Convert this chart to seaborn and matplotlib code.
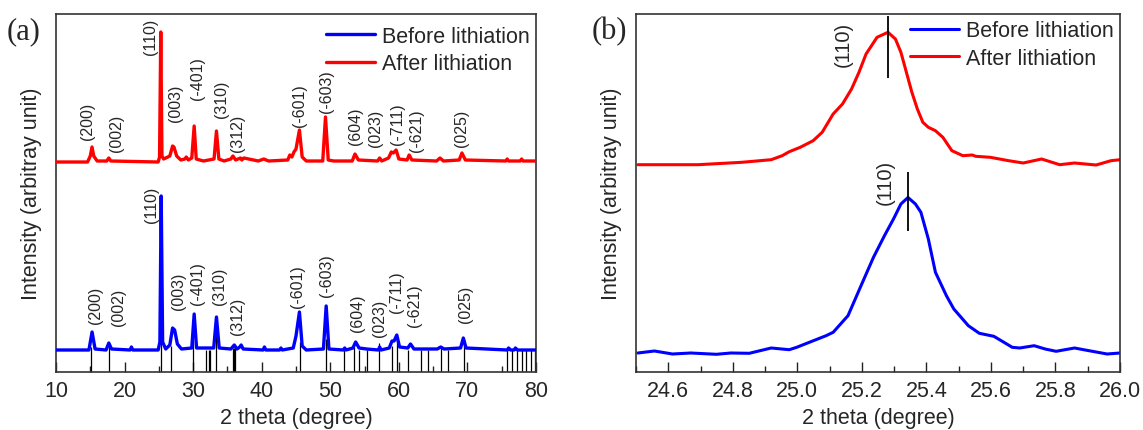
import matplotlib
matplotlib.use("Agg")
import matplotlib.pyplot as plt
from matplotlib.ticker import MultipleLocator
import seaborn as sns
import pandas as pd

# ---- panel (a): full XRD patterns, heights (arb. units) ----
before_x = [10.0, 14.8, 15.26, 15.7, 17.3, 17.7, 18.1, 20.8, 21.0, 21.2, 24.9, 25.15, 25.34, 25.55,
            26.0, 26.6, 27.0, 27.3, 27.7, 28.3, 29.8, 30.15, 30.5, 33.0, 33.4, 33.8, 35.5, 36.0,
            36.4, 36.8, 37.0, 37.3, 40.2, 40.4, 40.6, 42.6, 42.8, 43.0, 44.6, 45.0, 45.5, 45.9,
            46.5, 49.0, 49.4, 49.8, 51.9, 52.1, 52.3, 53.3, 53.7, 54.2, 55.3, 57.0, 57.2, 57.4,
            58.6, 59.0, 59.3, 59.7, 60.1, 61.3, 61.7, 62.2, 65.6, 66.1, 66.6, 69.0, 69.4, 69.8,
            75.8, 76.0, 76.3, 76.8, 77.0, 77.3, 80.0]
before_y = [22, 22, 40, 23, 22, 29, 23, 22, 25, 22, 22, 30, 176, 30,
            23, 27, 44, 42, 28, 23, 24, 58, 24, 24, 55, 24, 23, 27,
            23, 25, 27, 23, 22, 25, 22, 22, 24, 22, 24, 36, 60, 26,
            22, 23, 66, 23, 22, 24, 22, 24, 30, 24, 23, 22, 25, 22,
            24, 31, 31, 37, 25, 24, 28, 23, 23, 25, 23, 24, 34, 24,
            22, 24, 22, 22, 24, 22, 22]

after_x = [10.0, 14.6, 15.0, 15.25, 15.5, 16.0, 17.4, 17.7, 18.0, 24.9, 25.1, 25.28, 25.45, 25.7,
           26.6, 27.0, 27.2, 27.6, 28.2, 28.8, 29.0, 29.3, 29.8, 30.15, 30.45, 31.5, 33.05, 33.4,
           33.75, 34.5, 35.5, 35.8, 36.2, 36.9, 37.1, 37.4, 38.1, 39.5, 40.3, 41.0, 43.8, 44.1,
           44.4, 44.7, 45.0, 45.5, 45.9, 46.5, 48.9, 49.3, 49.7, 50.5, 53.2, 53.6, 54.1, 56.9,
           57.2, 57.5, 58.5, 58.9, 59.2, 59.6, 60.0, 61.2, 61.5, 61.9, 65.5, 66.0, 66.5, 68.8,
           69.2, 69.7, 75.6, 75.8, 76.0, 77.7, 77.9, 78.1, 80.0]
after_y = [210, 210, 216, 225, 216, 211, 211, 214, 211, 210, 215, 340, 216, 213,
           216, 226, 225, 216, 212, 213, 215, 212, 214, 246, 213, 211, 213, 241,
           213, 211, 213, 216, 212, 214, 212, 214, 213, 211, 213, 211, 212, 217,
           215, 220, 223, 242, 215, 211, 211, 255, 212, 211, 211, 218, 212, 211,
           214, 211, 214, 220, 219, 222, 213, 212, 217, 212, 211, 214, 211, 212,
           219, 212, 211, 213, 211, 211, 213, 211, 211]

# reference pattern sticks
ref_x = [15.1, 17.8, 25.3, 26.8, 30.0, 31.9, 32.3, 32.5, 33.4, 35.8, 35.9, 36.1, 45.6, 49.4,
         52.0, 53.5, 54.2, 55.3, 57.1, 59.0, 59.7, 61.4, 63.3, 64.3, 66.1, 67.2, 69.5,
         75.8, 76.5, 77.2, 77.9, 78.5, 79.2, 79.9]
ref_h = [25, 27, 100, 26, 35, 22, 22, 22, 40, 24, 24, 24, 30, 33,
         22, 25, 22, 22, 29, 26, 33, 22, 22, 22, 26, 22, 33,
         22, 22, 22, 22, 22, 22, 22]

hkl_a = ["(200)", "(002)", "(110)", "(003)", "(-401)", "(310)", "(312)",
         "(-601)", "(-603)", "(604)", "(023)", "(-711)", "(-621)", "(025)"]
before_lab_x = [15.8, 19.1, 24.0, 27.9, 30.7, 33.9, 36.4, 45.2, 49.5, 54.0, 57.2, 59.7, 62.3, 69.7]
before_lab_y = [49, 47, 150, 63, 68, 68, 38, 65, 76, 41, 36, 60, 46, 50]
after_lab_x = [14.6, 18.8, 23.75, 27.4, 30.7, 34.2, 36.5, 45.5, 49.5, 53.7, 56.6, 59.8, 62.6, 69.2]
after_lab_y = [233, 221, 318, 251, 273, 255, 221, 246, 260, 228, 226, 228, 221, 226]

# ---- panel (b): zoom on the (110) reflection ----
zb_before_x = [24.506, 24.557, 24.613, 24.670, 24.749, 24.794, 24.851, 24.919, 24.975, 24.998,
               25.089, 25.111, 25.157, 25.202, 25.236, 25.270, 25.298, 25.321, 25.343, 25.366,
               25.383, 25.406, 25.428, 25.462, 25.485, 25.530, 25.564, 25.609, 25.632, 25.666,
               25.689, 25.734, 25.768, 25.802, 25.859, 25.904, 25.960, 26.0]
zb_before_y = [19, 21, 18, 19, 17.7, 19, 18.7, 24, 22.3, 24.7,
               36.3, 39.7, 56.3, 89.7, 114.7, 136.3, 153, 168, 174.5, 168,
               159.7, 133, 99.7, 76.3, 63, 46.3, 38.7, 35.7, 31.3, 24.7,
               24, 26.3, 23, 20.7, 24, 21.3, 18, 19]
zb_after_x = [24.506, 24.692, 24.828, 24.919, 24.953, 24.975, 25.009, 25.049, 25.077, 25.111,
              25.140, 25.168, 25.191, 25.213, 25.247, 25.281, 25.304, 25.321, 25.338, 25.355,
              25.372, 25.389, 25.406, 25.428, 25.451, 25.479, 25.513, 25.542, 25.553, 25.598,
              25.655, 25.700, 25.757, 25.813, 25.859, 25.926, 25.972, 26.0]
zb_after_y = [207.3, 207.3, 209.7, 212.3, 216.3, 220.3, 224.7, 231.3, 239.7, 258,
              268, 283, 299.7, 318, 334.7, 339.7, 333, 319.7, 299.7, 279.7,
              263, 249.7, 244.7, 241.3, 234.7, 221.3, 216.3, 217, 215.7, 214.7,
              211.3, 209, 213, 207.3, 209, 207, 211.3, 212.3]
peak_before = 25.343
peak_after = 25.281

sns.set_style("white")
plt.rcParams["font.family"] = ["Liberation Sans", "DejaVu Sans"]

fig = plt.figure(figsize=(11.43, 4.31), dpi=100)
ax1 = fig.add_axes([56 / 1143, 1 - 373 / 431, 480 / 1143, 358 / 431])
ax2 = fig.add_axes([636 / 1143, 1 - 373 / 431, 484 / 1143, 358 / 431])

blue = "#0000FF"
red = "#FF0000"

df_b = pd.DataFrame({"x": before_x, "y": before_y})
df_a = pd.DataFrame({"x": after_x, "y": after_y})

ax1.vlines(ref_x, 0, ref_h, color="k", lw=0.9, zorder=1)
sns.lineplot(data=df_b, x="x", y="y", ax=ax1, color=blue, lw=2.4,
             estimator=None, label="Before lithiation", zorder=3)
sns.lineplot(data=df_a, x="x", y="y", ax=ax1, color=red, lw=2.4,
             estimator=None, label="After lithiation", zorder=3)

for t, x, y in zip(hkl_a, before_lab_x, before_lab_y):
    ax1.text(x, y, t, rotation=90, ha="center", va="bottom", fontsize=11.5)
for t, x, y in zip(hkl_a, after_lab_x, after_lab_y):
    ax1.text(x, y, t, rotation=90, ha="center", va="bottom", fontsize=11.5)

ax1.set_xlim(10, 80)
ax1.set_ylim(0, 358)
ax1.xaxis.set_major_locator(MultipleLocator(10))
ax1.xaxis.set_minor_locator(MultipleLocator(5))

df_zb = pd.DataFrame({"x": zb_before_x, "y": zb_before_y})
df_za = pd.DataFrame({"x": zb_after_x, "y": zb_after_y})
sns.lineplot(data=df_zb, x="x", y="y", ax=ax2, color=blue, lw=2.2,
             estimator=None, label="Before lithiation")
sns.lineplot(data=df_za, x="x", y="y", ax=ax2, color=red, lw=2.2,
             estimator=None, label="After lithiation")
ax2.vlines([peak_after], 294, 356, color="k", lw=1.3)
ax2.vlines([peak_before], 141, 200, color="k", lw=1.3)
ax2.text(25.143, 306, "(110)", rotation=90, ha="center", va="bottom", fontsize=14.5)
ax2.text(25.272, 168, "(110)", rotation=90, ha="center", va="bottom", fontsize=14.5)

ax2.set_xlim(24.5, 26.0)
ax2.set_ylim(0, 358)
ax2.xaxis.set_major_locator(MultipleLocator(0.2))
ax2.xaxis.set_minor_locator(MultipleLocator(0.1))
ax2.set_xticks([24.6, 24.8, 25.0, 25.2, 25.4, 25.6, 25.8, 26.0])

for ax in (ax1, ax2):
    ax.set_yticks([])
    ax.tick_params(axis="x", which="both", direction="in", top=False, bottom=True,
                   labelsize=15.5, pad=6, color="#222222")
    ax.tick_params(axis="x", which="major", length=7, width=1)
    ax.tick_params(axis="x", which="minor", length=4, width=1)
    for s in ax.spines.values():
        s.set_visible(True)
        s.set_color("#333333")
        s.set_linewidth(1.2)
    ax.set_xlabel("2 theta (degree)", fontsize=15.5, labelpad=4)
    ax.set_ylabel("Intensity (arbitray unit)", fontsize=15.5, labelpad=10)

ax1.legend(loc="upper right", bbox_to_anchor=(1.0, 0.985), frameon=False, fontsize=15.5,
           handlelength=2.3, handletextpad=0.3, labelspacing=0.3, borderaxespad=0.1,
           borderpad=0.2)
ax2.legend(loc="upper right", bbox_to_anchor=(0.995, 0.995), frameon=False, fontsize=15.5,
           handlelength=2.3, handletextpad=0.3, labelspacing=0.3, borderaxespad=0.1,
           borderpad=0.1)

fig.text(24 / 1143, 1 - 32 / 431, "(a)", family=["Liberation Serif", "DejaVu Serif"],
         fontsize=22, ha="center", va="center")
fig.text(609 / 1143, 1 - 32 / 431, "(b)", family=["Liberation Serif", "DejaVu Serif"],
         fontsize=22, ha="center", va="center")

fig.savefig("out.png", dpi=100)
